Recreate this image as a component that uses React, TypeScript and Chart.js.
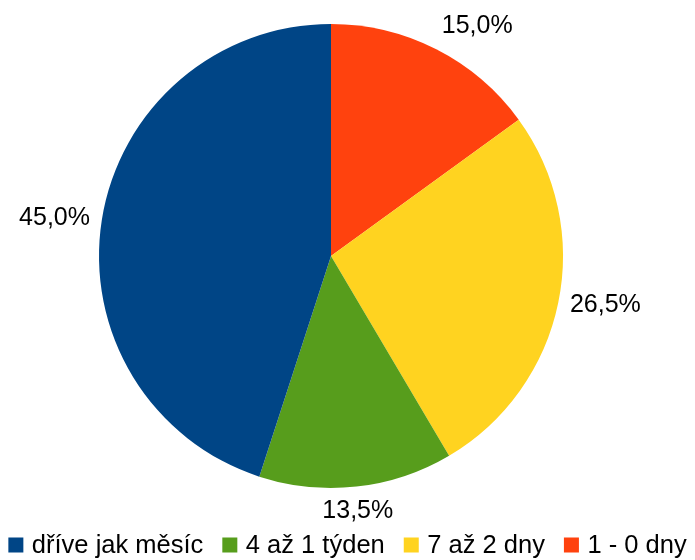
import React, { useEffect, useRef } from "react";
import { Chart, registerables } from "chart.js";

Chart.register(...registerables);

// Slices in clockwise order starting at 12 o'clock
const categories = ["1 - 0 dny", "7 až 2 dny", "4 až 1 týden", "dříve jak měsíc"];
const values = [15.0, 26.5, 13.5, 45.0];
const sliceColors = ["#FF420E", "#FFD320", "#579D1C", "#004586"];

const FONT = "'Liberation Sans', Arial, sans-serif";
const FONT_SIZE = 25;
const LEGEND_FONT_SIZE = 25.5;

const fmt = (v: number) => v.toFixed(1).replace(".", ",") + "%";

const labelPlugin = {
  id: "pieLabels",
  afterDraw(chart: any) {
    const ctx = chart.ctx;
    const meta = chart.getDatasetMeta(0);
    const data = chart.data.datasets[0].data as number[];
    const total = data.reduce((a, b) => a + b, 0);
    ctx.save();
    ctx.font = `${FONT_SIZE}px ${FONT}`;
    ctx.fillStyle = "#000000";
    meta.data.forEach((arc: any, i: number) => {
      const p = arc.getProps(["x", "y", "startAngle", "endAngle", "outerRadius"], true);
      const mid = (p.startAngle + p.endAngle) / 2;
      const r = p.outerRadius + 12;
      const px = p.x + Math.cos(mid) * r;
      const py = p.y + Math.sin(mid) * r;
      const c = Math.cos(mid);
      const s = Math.sin(mid);
      ctx.textAlign = Math.abs(c) < 0.3 ? "center" : c > 0 ? "left" : "right";
      ctx.textBaseline = Math.abs(s) < 0.3 ? "middle" : s > 0 ? "top" : "bottom";
      ctx.fillText(fmt((data[i] / total) * 100), px, py);
    });

    // Legend (reverse of slice order), centered along the bottom
    ctx.font = `${LEGEND_FONT_SIZE}px ${FONT}`;
    const box = 15;
    const boxGap = 8.5;
    const itemGap = 19;
    const items = categories.map((c, i) => ({ text: c, color: sliceColors[i] })).reverse();
    const widths = items.map((it) => ctx.measureText(it.text).width);
    const totalW = widths.reduce((a, w) => a + box + boxGap + w, 0) + itemGap * (items.length - 1);
    let x = (chart.width - totalW) / 2;
    const baseline = 552.5;
    ctx.textAlign = "left";
    ctx.textBaseline = "alphabetic";
    items.forEach((it, i) => {
      ctx.fillStyle = it.color;
      ctx.fillRect(x, baseline - box, box, box);
      ctx.fillStyle = "#000000";
      ctx.fillText(it.text, x + box + boxGap, baseline);
      x += box + boxGap + widths[i] + itemGap;
    });
    ctx.restore();
  },
};

export default function App() {
  const ref = useRef<HTMLCanvasElement | null>(null);
  useEffect(() => {
    if (!ref.current) return;
    const chart = new Chart(ref.current, {
      type: "pie",
      data: {
        labels: categories,
        datasets: [
          {
            data: values,
            backgroundColor: sliceColors,
            borderWidth: 0,
          },
        ],
      },
      options: {
        responsive: false,
        animation: false,
        layout: { padding: { top: 24, bottom: 72, left: 0, right: 33 } },
        plugins: {
          legend: { display: false },
          tooltip: { enabled: false },
        },
      },
      plugins: [labelPlugin],
    });
    return () => chart.destroy();
  }, []);
  return (
    <div style={{ position: "fixed", left: 0, top: 0, width: 695, height: 560, background: "#ffffff" }}>
      <canvas ref={ref} width={695} height={560} style={{ display: "block" }} />
    </div>
  );
}
